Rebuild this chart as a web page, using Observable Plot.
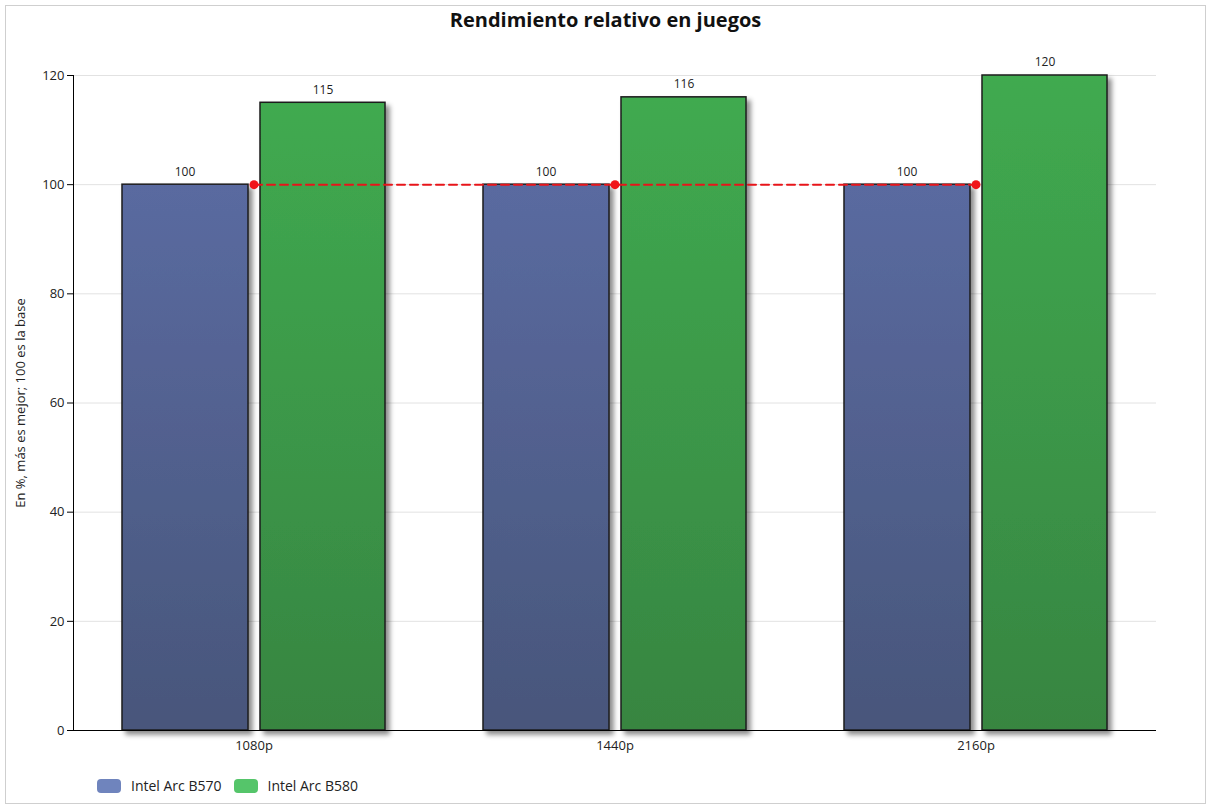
<!DOCTYPE html>
<html>
<head>
<meta charset="utf-8">
<script src="https://cdn.jsdelivr.net/npm/d3@7"></script>
<script src="https://cdn.jsdelivr.net/npm/@observablehq/plot@0.6"></script>
<style>
  body { margin: 0; background: #fff; font-family: "Open Sans", "Noto Sans", sans-serif; }
  #frame { position: absolute; left: 5px; top: 5px; width: 1199px; height: 797px; border: 1px solid #cfcfcf; }
  #title { position: absolute; left: 0; top: 6px; width: 1211px; text-align: center; font-size: 20px; font-weight: bold; color: #111; }
  #chart { position: absolute; left: 0; top: 40px; }
  #legend { position: absolute; left: 97px; top: 776px; display: flex; align-items: center; font-size: 14px; color: #222; }
  .sw { width: 24px; height: 14px; border-radius: 4px; margin-right: 10px; }
  .item { display: flex; align-items: center; margin-right: 12px; }
</style>
</head>
<body>
<div id="frame"></div>
<div id="title">Rendimiento relativo en juegos</div>
<div id="chart"></div>
<div id="legend"></div>
<script>
const categories = ["1080p", "1440p", "2160p"];
const seriesNames = ["Intel Arc B570", "Intel Arc B580"];
const b570 = [100, 100, 100];
const b580 = [115, 116, 120];
const baseline = 100;
const yTicks = [0, 20, 40, 60, 80, 100, 120];
const legendColors = ["#6f84bd", "#55c56a"];

const dataA = categories.map((c, i) => ({cat: c, v: b570[i]}));
const dataB = categories.map((c, i) => ({cat: c, v: b580[i]}));
const baseData = categories.map(c => ({cat: c, v: baseline}));

const font = "Open Sans, Noto Sans, sans-serif";

const plot = Plot.plot({
  width: 1211,
  height: 720,
  marginLeft: 73,
  marginRight: 55,
  marginTop: 35,
  marginBottom: 30,
  style: {fontFamily: font, fontSize: "13px", color: "#222", background: "transparent"},
  x: {domain: categories, padding: 0},
  y: {domain: [0, 120]},
  marks: [
    Plot.gridY(yTicks, {stroke: "#e2e2e2", strokeOpacity: 1}),
    Plot.axisY(yTicks, {tickSize: 6, fontSize: 13, label: "En %, más es mejor; 100 es la base", labelAnchor: "center", labelArrow: "none", labelOffset: 58, stroke: "#000"}),
    Plot.axisX({tickSize: 0, tickPadding: 10, fontSize: 13, label: null}),
    Plot.barY(dataA, {x: "cat", y: "v", insetLeft: 49, insetRight: 186, fill: "url(#gradBlue)", stroke: "#1c1c1c", strokeWidth: 1.5}),
    Plot.barY(dataB, {x: "cat", y: "v", insetLeft: 187, insetRight: 49, fill: "url(#gradGreen)", stroke: "#1c1c1c", strokeWidth: 1.5}),
    Plot.text(dataA, {x: "cat", y: "v", text: d => String(d.v), dx: -69, dy: -13, fontSize: 12, fill: "#222"}),
    Plot.text(dataB, {x: "cat", y: "v", text: d => String(d.v), dx: 69, dy: -13, fontSize: 12, fill: "#222"}),
    Plot.lineY(baseData, {x: "cat", y: "v", stroke: "#e8141a", strokeWidth: 2, strokeDasharray: "8,5"}),
    Plot.dot(baseData, {x: "cat", y: "v", r: 4.5, fill: "#f0141a"}),
    Plot.ruleY([0], {stroke: "#000", strokeWidth: 1})
  ]
});

const svg = d3.select(plot);
const defs = svg.insert("defs", ":first-child");
const g1 = defs.append("linearGradient").attr("id", "gradBlue").attr("x1", 0).attr("y1", 0).attr("x2", 0).attr("y2", 1);
g1.append("stop").attr("offset", "0%").attr("stop-color", "#5a6aa0");
g1.append("stop").attr("offset", "100%").attr("stop-color", "#48567b");
const g2 = defs.append("linearGradient").attr("id", "gradGreen").attr("x1", 0).attr("y1", 0).attr("x2", 0).attr("y2", 1);
g2.append("stop").attr("offset", "0%").attr("stop-color", "#40aa50");
g2.append("stop").attr("offset", "100%").attr("stop-color", "#378541");
const f = defs.append("filter").attr("id", "shadow").attr("x", "-10%").attr("y", "-10%").attr("width", "130%").attr("height", "130%");
f.append("feDropShadow").attr("dx", 4).attr("dy", 4).attr("stdDeviation", 2.5).attr("flood-color", "#000").attr("flood-opacity", 0.45);
svg.selectAll("g[aria-label='bar'] rect").attr("filter", "url(#shadow)");
// y axis line
svg.append("line")
  .attr("x1", 73.5).attr("x2", 73.5).attr("y1", 35).attr("y2", 690).attr("stroke", "#000");

document.getElementById("chart").appendChild(plot);

const legend = document.getElementById("legend");
seriesNames.forEach((n, i) => {
  const it = document.createElement("div");
  it.className = "item";
  const sw = document.createElement("div");
  sw.className = "sw";
  sw.style.background = legendColors[i];
  const t = document.createElement("span");
  t.textContent = n;
  it.appendChild(sw); it.appendChild(t);
  legend.appendChild(it);
});
</script>
</body>
</html>
